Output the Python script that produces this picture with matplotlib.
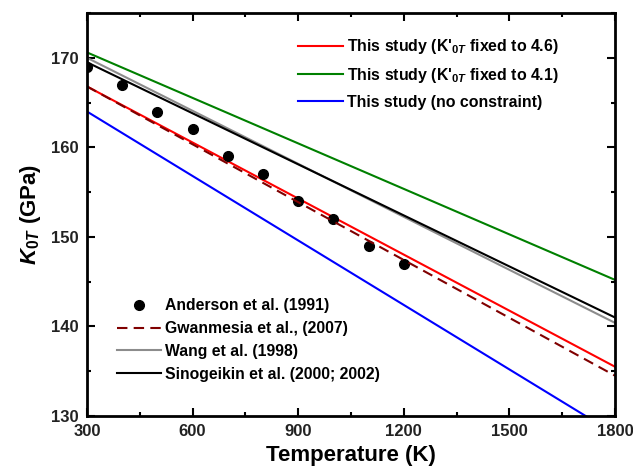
import numpy as np
import matplotlib
matplotlib.use("Agg")
import matplotlib.pyplot as plt
from matplotlib.ticker import MultipleLocator

# temperature endpoints for the straight fit lines
t_line = [300, 1800]
k_red = [166.8, 135.5]      # K'0T fixed to 4.6
k_green = [170.6, 145.2]    # K'0T fixed to 4.1
k_blue = [164.0, 128.0]     # no constraint
k_gwan = [166.8, 134.5]     # Gwanmesia 2007
k_wang = [170.0, 140.4]     # Wang 1998
k_sino = [169.5, 141.0]     # Sinogeikin 2000; 2002

# Anderson et al. (1991) points
t_and = [300, 400, 500, 600, 700, 800, 900, 1000, 1100, 1200]
k_and = [169, 167, 164, 162, 159, 157, 154, 152, 149, 147]

plt.rcParams['font.family'] = ['Liberation Sans', 'DejaVu Sans']
plt.rcParams['font.weight'] = 'bold'
plt.rcParams['mathtext.fontset'] = 'custom'
plt.rcParams['mathtext.rm'] = 'Liberation Sans:bold'
plt.rcParams['mathtext.it'] = 'Liberation Sans:bold:italic'
plt.rcParams['mathtext.bf'] = 'Liberation Sans:bold'

fig = plt.figure(figsize=(6.33, 4.73), dpi=100)
ax = fig.add_axes([0.1374, 0.1205, 0.8342, 0.852])

l1, = ax.plot(t_line, k_red, color='#ff0000', lw=1.5, label="This study (K'$_{0T}$ fixed to 4.6)")
l2, = ax.plot(t_line, k_green, color='#008000', lw=1.5, label="This study (K'$_{0T}$ fixed to 4.1)")
l3, = ax.plot(t_line, k_blue, color='#0000ff', lw=1.5, label="This study (no constraint)")
p1, = ax.plot(t_and, k_and, 'o', color='black', ms=7, label="Anderson et al. (1991)")
l4, = ax.plot(t_line, k_gwan, '--', color='#800000', lw=1.5, dashes=(5, 3), label="Gwanmesia et al., (2007)")
l5, = ax.plot(t_line, k_wang, color='#8c8c8c', lw=1.5, label="Wang et al. (1998)")
l6, = ax.plot(t_line, k_sino, color='black', lw=1.5, label="Sinogeikin et al. (2000; 2002)")

ax.set_xlim(300, 1800)
ax.set_ylim(130, 175)
ax.xaxis.set_major_locator(MultipleLocator(300))
ax.xaxis.set_minor_locator(MultipleLocator(150))
ax.yaxis.set_minor_locator(MultipleLocator(5))
ax.set_yticks([130, 140, 150, 160, 170])
ax.tick_params(which='both', direction='in', top=True, right=True, width=1.5)
ax.tick_params(which='major', length=6, labelsize=12, pad=6)
ax.tick_params(which='minor', length=3)
for s in ax.spines.values():
    s.set_linewidth(2)
for lab in ax.get_xticklabels() + ax.get_yticklabels():
    lab.set_fontweight('bold')
    lab.set_color('#222222')

ax.set_xlabel('Temperature (K)', fontsize=16, fontweight='bold')
ax.set_ylabel(r'$K_{0T}$ (GPa)', fontsize=16, fontweight='bold', labelpad=6)

leg1 = ax.legend(handles=[l1, l2, l3], loc='upper left', frameon=False,
                 prop={'weight': 'bold', 'size': 11.4}, handlelength=2.8,
                 handletextpad=0.3, labelspacing=0.62, borderpad=0,
                 borderaxespad=0, bbox_to_anchor=(0.40, 0.94))
ax.add_artist(leg1)
ax.legend(handles=[p1, l4, l5, l6], loc='lower left', frameon=False,
          prop={'weight': 'bold', 'size': 11.3}, handlelength=2.8,
          handletextpad=0.25, labelspacing=0.5, borderpad=0,
          borderaxespad=0, bbox_to_anchor=(0.057, 0.085))

fig.savefig('out.png', dpi=100)
